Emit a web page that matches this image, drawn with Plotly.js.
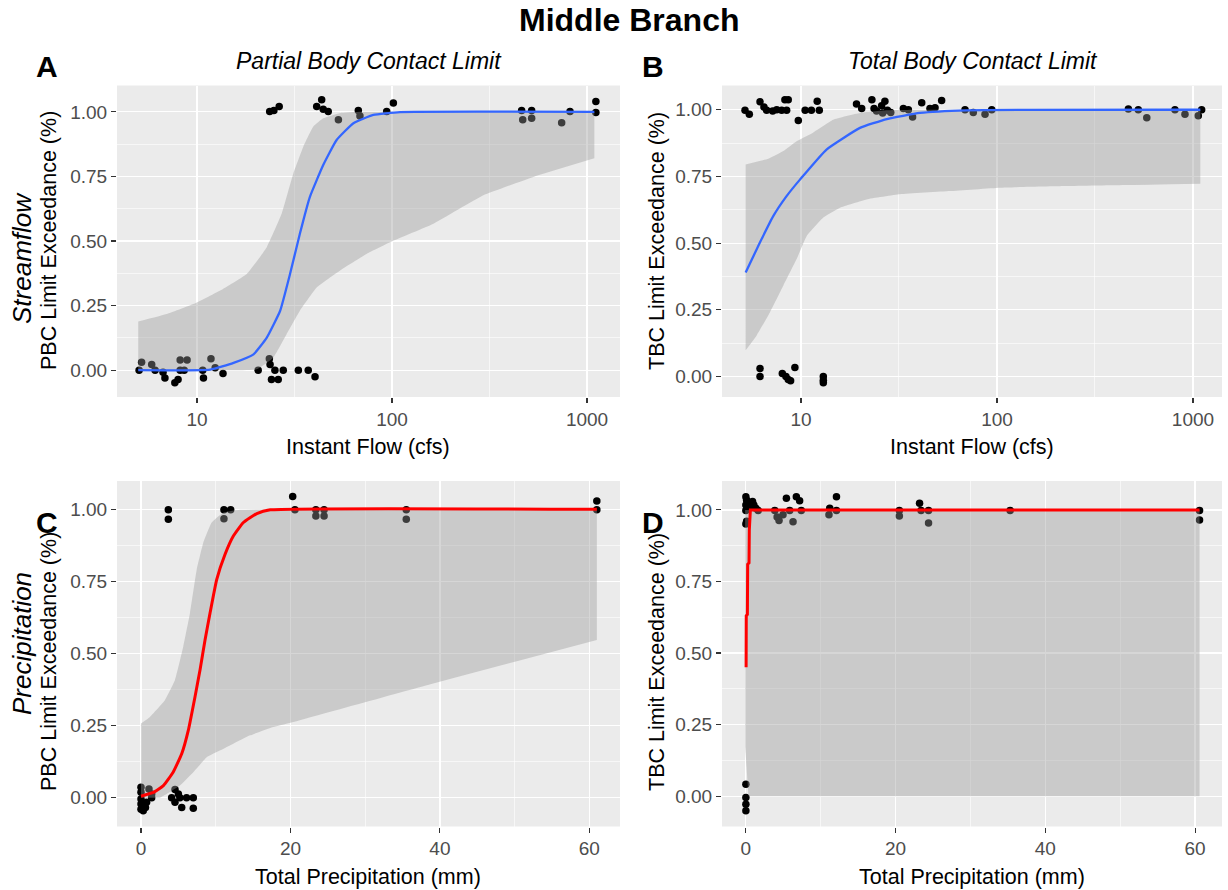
<!DOCTYPE html>
<html><head><meta charset="utf-8">
<script src="https://cdn.plot.ly/plotly-3.0.1.min.js"></script>
<style>html,body{margin:0;padding:0;background:#fff}</style>
</head><body><div id="chart" style="width:1228px;height:890px"></div>
<script>
// ---------- DATA ----------
// Panel A: Streamflow vs PBC exceedance (jittered observations)
const aFlowX = [5.05, 5.2, 5.86, 6.1, 6.7, 6.85, 7.7, 8.0, 8.2, 8.9, 8.2, 8.6, 10.7, 10.8, 11.8, 12.4, 13.6,
  20.6, 23.5, 23.7, 24.1, 26.1, 25.1, 27.7, 33.1, 37.2, 40.3,
  23.6, 24.8, 26.4, 41.1, 43.6, 44.4, 47.1, 53.1, 67.2, 68.5, 93.9, 101.6, 462, 468, 520, 520, 741, 818, 1110, 1110];
const aExceed = [0, 0.031, 0.022, 0, -0.008, -0.03, -0.049, -0.036, 0.039, 0.039, 0, 0, 0, -0.03, 0.044, 0.009, -0.013,
  0, 0.044, 0.022, -0.036, -0.036, 0, 0, 0, 0, -0.026,
  1.001, 1.005, 1.021, 1.021, 1.047, 1.01, 1.001, 0.969, 1.005, 0.984, 1.001, 1.034, 1.005, 0.969, 1.005, 0.975, 0.958, 1.001, 1.04, 0.997];
const aFitX = [5.0, 11.7, 15.4, 19.5, 22.8, 26.7, 30, 33.7, 37.9, 44.4, 52, 63.4, 80.2, 110, 1090];
const aFitY = [0.0, 0.002, 0.028, 0.061, 0.126, 0.23, 0.372, 0.528, 0.67, 0.794, 0.891, 0.956, 0.988, 0.999, 1.0];
const aHiX = [5.0, 7.0, 10, 13.6, 18, 22.8, 27.2, 31.2, 35.1, 39.5, 44.4, 54, 70, 1090];
const aHiY = [0.188, 0.217, 0.262, 0.314, 0.372, 0.476, 0.606, 0.761, 0.865, 0.943, 0.975, 0.995, 1.0, 1.0];
const aLoX = [5.0, 12, 20.2, 24.6, 28.8, 33.7, 41.1, 54, 74, 99.5, 163, 294, 531, 1090];
const aLoY = [0, 0, 0.003, 0.048, 0.139, 0.23, 0.32, 0.385, 0.45, 0.498, 0.567, 0.677, 0.748, 0.82];

// Panel B: Streamflow vs TBC exceedance
const bFlowX = [5.18, 5.45, 6.18, 6.47, 6.68, 7.17, 7.52, 7.97, 8.28, 8.61, 8.45, 9.69, 10.5, 11.3, 12.1, 12.4,
  19.2, 20.4, 23, 23.6, 24.3, 25.8, 26.1, 26.8, 27.6, 28.7, 33.3, 35.3, 37.1, 41.3, 45.5, 48.3, 52.2,
  68.7, 75.7, 86.9, 94, 468, 526, 581, 809, 910, 1064, 1107,
  6.18, 6.18, 8.03, 8.38, 8.61, 8.85, 9.31, 13, 13, 13];
const bExceed = [0.998, 0.983, 1.03, 1.01, 0.998, 0.995, 1.0, 0.998, 1.038, 1.038, 0.998, 0.96, 0.998, 0.998, 1.032, 0.998,
  1.022, 1.005, 1.038, 1.005, 0.995, 1.015, 0.988, 1.032, 0.998, 0.99, 1.005, 1.0, 0.973, 1.026, 1.005, 1.008, 1.035,
  1.0, 0.99, 0.983, 1.0, 1.003, 1.0, 0.97, 1.0, 0.983, 0.978, 1.0,
  0.03, 0, 0.011, 0, -0.011, -0.016, 0.034, 0, -0.014, -0.024];
const bFitX = [5.22, 6.18, 7.23, 8.46, 9.9, 13.5, 20, 27.4, 40.4, 70, 1090];
const bFitY = [0.39, 0.503, 0.602, 0.677, 0.739, 0.851, 0.932, 0.965, 0.988, 0.998, 1.0];
const bHiX = [5.22, 6.81, 8.13, 9.5, 11.1, 14.6, 20, 27.4, 40, 1090];
const bHiY = [0.795, 0.816, 0.845, 0.882, 0.907, 0.963, 0.988, 0.998, 1.0, 1.0];
const bLoX = [5.22, 5.94, 6.95, 8.13, 9.5, 10.7, 13, 15.8, 21.6, 32, 57.5, 103.5, 227, 459, 1090];
const bLoY = [0.098, 0.154, 0.241, 0.341, 0.44, 0.527, 0.596, 0.633, 0.664, 0.683, 0.695, 0.708, 0.714, 0.718, 0.723];

// Panel C: Precipitation vs PBC exceedance
const cPrecipX = [0, 0, 0, 0, 0, 0.3, 0.6, 0.75, 1.07, 1.43, 1.43, 4.55, 5.0, 4.1, 5.2, 6.1, 7.0, 5.45, 7.0, 4.55,
  3.66, 3.66, 11.1, 11.1, 12.0, 20.3, 20.6, 23.4, 23.4, 24.5, 24.5, 35.5, 35.5, 61.0, 61.0];
const cExceed = [0.036, 0.019, -0.005, -0.022, -0.04, -0.045, -0.034, -0.016, 0.03, 0.013, 0, 0.028, 0.013, 0, 0, 0, 0, -0.034, -0.037, -0.016,
  0.998, 0.965, 0.998, 0.967, 0.998, 1.044, 0.998, 0.998, 0.977, 0.998, 0.977, 0.998, 0.965, 1.029, 0.998];
const cFitX = [0, 1.65, 3.0, 4.3, 5.45, 6.33, 7.23, 7.9, 8.57, 9.24, 10.13, 11.24, 12.36, 13.7, 15.5, 17.3, 61];
const cFitY = [0.005, 0.018, 0.042, 0.088, 0.152, 0.233, 0.35, 0.443, 0.547, 0.64, 0.756, 0.843, 0.907, 0.954, 0.985, 0.998, 1.0];
const cHiX = [0, 1.2, 3.2, 4.55, 5.66, 6.56, 7.46, 8.34, 9.46, 11, 13.25, 61];
const cHiY = [0.257, 0.28, 0.338, 0.408, 0.524, 0.64, 0.791, 0.884, 0.954, 0.988, 0.998, 1.0];
const cLoX = [0, 2.5, 3.44, 5.2, 7.0, 8.8, 10.6, 12.36, 14.6, 17.7, 19.9, 39.1, 61];
const cLoY = [0, 0, 0.013, 0.042, 0.088, 0.14, 0.164, 0.187, 0.216, 0.245, 0.259, 0.396, 0.547];

// Panel D: Precipitation vs TBC exceedance
const dPrecipX = [0, 0.09, 0, 0.3, 0.62, 0.89, 1.06, 1.33, 1.64, 0, 0, 0.1,
  3.86, 4.17, 4.43, 4.96, 5.41, 6.74, 7.18, 6.3, 5.85, 7.4, 11.2, 11.1, 12.1, 12.1,
  20.5, 20.5, 23.2, 23.4, 24.4, 24.4, 35.3, 60.6, 60.6,
  0, 0, 0, 0];
const dExceed = [1.046, 1.035, 1.017, 1.023, 1.011, 1.029, 1.017, 1.006, 0.998, 0.998, 0.951, 0.96,
  0.998, 0.975, 0.963, 0.983, 1.041, 1.046, 1.032, 0.959, 0.998, 0.998, 1.006, 0.983, 1.046, 0.998,
  0.998, 0.979, 1.023, 0.998, 0.998, 0.954, 0.998, 0.998, 0.965,
  0.042, -0.005, -0.028, -0.051];
const dFitX = [0.03, 0.05, 0.2, 0.24, 0.42, 0.46, 0.6, 60.6];
const dFitY = [0.45, 0.63, 0.635, 0.81, 0.815, 0.93, 1.0, 1.0];
const dHiX = [-0.1, 60.6];
const dHiY = [1.0, 1.0];
const dLoX = [-0.1, 0.05, 0.2, 0.35, 60.6];
const dLoY = [0.175, 0.12, 0.03, 0, 0];

// Tick labels
const yTicks = [0, 0.25, 0.5, 0.75, 1.0];
const yTickText = ['0.00', '0.25', '0.50', '0.75', '1.00'];
const yMinor = [0.125, 0.375, 0.625, 0.875];
const flowTicks = [10, 100, 1000];
const flowTickText = ['10', '100', '1000'];
const flowMinor = [31.62, 316.2];
const precipTicks = [0, 20, 40, 60];
const precipTickText = ['0', '20', '40', '60'];
const precipMinor = [10, 30, 50];

// ---------- BUILD ----------
const FONT = 'Liberation Sans, Arial, Helvetica, sans-serif';
const W = 1228, H = 890;
const fx = p => p / W, fy = p => 1 - p / H;

function pts(x, y, n) {
  return {type: 'scatter', mode: 'markers', x: x, y: y, xaxis: 'x' + n, yaxis: 'y' + n,
    marker: {color: '#000', size: 7.5}, hoverinfo: 'skip', showlegend: false};
}
// confidence band: lower edge (no fill) followed by upper edge filled down to it
function band(hx, hy, lx, ly, n, shape) {
  const lo = {type: 'scatter', mode: 'lines', x: lx, y: ly, line: {width: 0, shape: shape, smoothing: 0.35},
    xaxis: 'x' + n, yaxis: 'y' + n, hoverinfo: 'skip', showlegend: false};
  const hi = {type: 'scatter', mode: 'lines', x: hx, y: hy, line: {width: 0, shape: shape, smoothing: 0.35},
    fill: 'tonexty', fillcolor: 'rgba(153,153,153,0.4)',
    xaxis: 'x' + n, yaxis: 'y' + n, hoverinfo: 'skip', showlegend: false};
  return [lo, hi];
}
function fit(x, y, color, w, n, shape) {
  return {type: 'scatter', mode: 'lines', x: x, y: y, xaxis: 'x' + n, yaxis: 'y' + n,
    line: {color: color, width: w, shape: shape, smoothing: 0.4}, hoverinfo: 'skip', showlegend: false};
}

const data = [].concat(
  [pts(aFlowX, aExceed, '')], band(aHiX, aHiY, aLoX, aLoY, '', 'spline'), [fit(aFitX, aFitY, '#3366FF', 2.3, '', 'spline')],
  [pts(bFlowX, bExceed, '2')], band(bHiX, bHiY, bLoX, bLoY, '2', 'spline'), [fit(bFitX, bFitY, '#3366FF', 2.3, '2', 'spline')],
  [pts(cPrecipX, cExceed, '3')], band(cHiX, cHiY, cLoX, cLoY, '3', 'spline'), [fit(cFitX, cFitY, '#FF0000', 3, '3', 'spline')],
  [pts(dPrecipX, dExceed, '4')], band(dHiX, dHiY, dLoX, dLoY, '4', 'linear'), [fit(dFitX, dFitY, '#FF0000', 3, '4', 'linear')]
);

const common = {
  showgrid: true, gridcolor: '#FFFFFF', gridwidth: 1.2, zeroline: false, showline: false,
  ticks: 'outside', ticklen: 5, tickwidth: 1.1, tickcolor: '#333333',
  tickfont: {family: FONT, size: 19, color: '#4D4D4D'}, tickmode: 'array', fixedrange: true
};
function minor(vals) {
  return {tickmode: 'array', tickvals: vals, showgrid: true, gridcolor: '#FFFFFF', gridwidth: 0.6, ticks: ''};
}
function yAx(dom, rng, anchor) {
  return Object.assign({}, common, {domain: dom, range: rng, anchor: anchor,
    tickvals: yTicks, ticktext: yTickText, minor: minor(yMinor)});
}
function xLog(dom, rng, anchor) {
  return Object.assign({}, common, {type: 'log', domain: dom, range: rng, anchor: anchor,
    tickvals: flowTicks, ticktext: flowTickText, minor: minor(flowMinor)});
}
function xLin(dom, rng, anchor) {
  return Object.assign({}, common, {domain: dom, range: rng, anchor: anchor,
    tickvals: precipTicks, ticktext: precipTickText, minor: minor(precipMinor)});
}

const topRow = [fy(397), fy(85.5)];
const botRow = [fy(826.5), fy(481)];
const leftCol = [fx(117), fx(620)];
const rightCol = [fx(722), fx(1222)];

const layout = {
  width: W, height: H, margin: {l: 0, r: 0, t: 0, b: 0},
  paper_bgcolor: '#FFFFFF', plot_bgcolor: '#EBEBEB', showlegend: false,
  font: {family: FONT, color: '#000'},
  xaxis: xLog(leftCol, [0.59, 3.169], 'y'),
  yaxis: yAx(topRow, [-0.104, 1.102], 'x'),
  xaxis2: xLog(rightCol, [0.597, 3.148], 'y2'),
  yaxis2: yAx(topRow, [-0.077, 1.091], 'x2'),
  xaxis3: xLin(leftCol, [-3.21, 64.1], 'y3'),
  yaxis3: yAx(botRow, [-0.1, 1.098], 'x3'),
  xaxis4: xLin(rightCol, [-3.19, 63.6], 'y4'),
  yaxis4: yAx(botRow, [-0.106, 1.101], 'x4'),
  annotations: []
};

function ann(text, px, py, size, opts) {
  layout.annotations.push(Object.assign({text: text, x: fx(px), y: fy(py), xref: 'paper', yref: 'paper',
    xanchor: 'center', yanchor: 'middle', showarrow: false, font: {family: FONT, size: size, color: '#000'}}, opts || {}));
}
ann('<b>Middle Branch</b>', 629, 20, 32);
ann('<b>A</b>', 47, 66, 30);
ann('<b>B</b>', 653, 66, 30);
ann('<b>C</b>', 47, 522, 30);
ann('<b>D</b>', 653, 522, 30);
ann('<i>Partial Body Contact Limit</i>', 369, 61, 23);
ann('<i>Total Body Contact Limit</i>', 973, 61, 23);
ann('<i>Streamflow</i>', 22, 258, 26, {textangle: -90});
ann('<i>Precipitation</i>', 22, 644, 26, {textangle: -90});
ann('PBC Limit Exceedance (%)', 49, 241, 21.5, {textangle: -90});
ann('TBC Limit Exceedance (%)', 657, 241, 21.5, {textangle: -90});
ann('PBC Limit Exceedance (%)', 49, 662, 21.5, {textangle: -90});
ann('TBC Limit Exceedance (%)', 657, 662, 21.5, {textangle: -90});
ann('Instant Flow (cfs)', 368, 447, 21.5);
ann('Instant Flow (cfs)', 972, 447, 21.5);
ann('Total Precipitation (mm)', 368, 877, 21.5);
ann('Total Precipitation (mm)', 972, 877, 21.5);

Plotly.newPlot('chart', data, layout, {displayModeBar: false, staticPlot: true});
</script>
</body></html>
